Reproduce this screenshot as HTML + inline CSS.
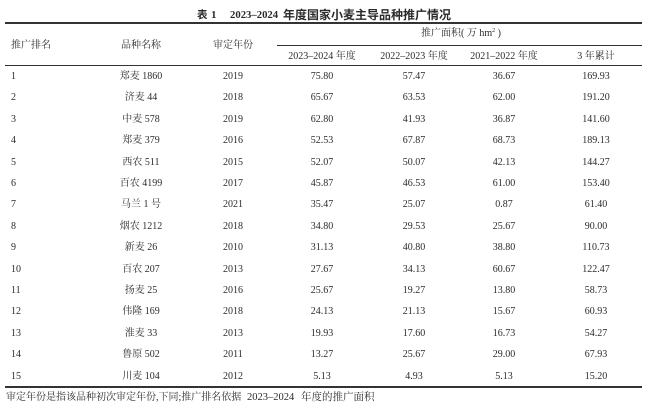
<!DOCTYPE html>
<html><head><meta charset="utf-8">
<style>
html,body{margin:0;padding:0;background:#fff;}
body{width:650px;height:407px;position:relative;overflow:hidden;color:#2b2b2b;
font-family:"Liberation Serif","Noto Serif CJK SC",serif;font-size:10px;}
.a{position:absolute;white-space:nowrap;height:14px;line-height:14px;}
.ln{position:absolute;background:#333;}
.r{position:absolute;left:0;width:650px;height:14px;line-height:14px;}
.r span{position:absolute;top:0;width:100px;text-align:center;white-space:nowrap;}
.r span.c1{left:11px;text-align:left;}
.c2{left:91px}.c3{left:183px}.c4{left:272px}.c5{left:364px}.c6{left:454px}.c7{left:546px}
.t{font-weight:bold;font-family:"Liberation Serif","Noto Sans CJK SC",sans-serif;}
.tc{font-weight:bold;font-family:"Noto Sans CJK SC",sans-serif;font-size:12px;}
sup{font-size:6px;line-height:0;vertical-align:4px;}
</style></head><body>

<div class="a tc" style="left:197px;top:8px;font-size:10.5px;">表</div>
<div class="a t" style="left:211px;top:8px;font-size:11px;">1</div>
<div class="a t" style="left:230px;top:8px;font-size:10.7px;">2023–2024</div>
<div class="a tc" style="left:283px;top:8px;">年度国家小麦主导品种推广情况</div>

<div class="ln" style="left:5px;top:22px;width:637px;height:2px;"></div>
<div class="ln" style="left:277px;top:45px;width:365px;height:1px;"></div>
<div class="ln" style="left:5px;top:65px;width:637px;height:1px;"></div>
<div class="ln" style="left:5px;top:386px;width:637px;height:1.6px;"></div>

<div class="r" style="top:39px;">
<span class="c1">推广排名</span><span class="c2">品种名称</span><span class="c3">审定年份</span>
</div>
<div class="a" style="left:401px;width:120px;text-align:center;top:27px;">推广面积( 万 hm<sup>2</sup> )</div>
<div class="r" style="top:50px;">
<span class="c4">2023–2024 年度</span><span class="c5">2022–2023 年度</span><span class="c6">2021–2022 年度</span><span class="c7">3 年累计</span>
</div>

<div class="r" style="top:70px;"><span class="c1">1</span><span class="c2">郑麦 1860</span><span class="c3">2019</span><span class="c4">75.80</span><span class="c5">57.47</span><span class="c6">36.67</span><span class="c7">169.93</span></div>
<div class="r" style="top:91.4px;"><span class="c1">2</span><span class="c2">济麦 44</span><span class="c3">2018</span><span class="c4">65.67</span><span class="c5">63.53</span><span class="c6">62.00</span><span class="c7">191.20</span></div>
<div class="r" style="top:112.8px;"><span class="c1">3</span><span class="c2">中麦 578</span><span class="c3">2019</span><span class="c4">62.80</span><span class="c5">41.93</span><span class="c6">36.87</span><span class="c7">141.60</span></div>
<div class="r" style="top:134.2px;"><span class="c1">4</span><span class="c2">郑麦 379</span><span class="c3">2016</span><span class="c4">52.53</span><span class="c5">67.87</span><span class="c6">68.73</span><span class="c7">189.13</span></div>
<div class="r" style="top:155.6px;"><span class="c1">5</span><span class="c2">西农 511</span><span class="c3">2015</span><span class="c4">52.07</span><span class="c5">50.07</span><span class="c6">42.13</span><span class="c7">144.27</span></div>
<div class="r" style="top:177px;"><span class="c1">6</span><span class="c2">百农 4199</span><span class="c3">2017</span><span class="c4">45.87</span><span class="c5">46.53</span><span class="c6">61.00</span><span class="c7">153.40</span></div>
<div class="r" style="top:198.4px;"><span class="c1">7</span><span class="c2">马兰 1 号</span><span class="c3">2021</span><span class="c4">35.47</span><span class="c5">25.07</span><span class="c6">0.87</span><span class="c7">61.40</span></div>
<div class="r" style="top:219.8px;"><span class="c1">8</span><span class="c2">烟农 1212</span><span class="c3">2018</span><span class="c4">34.80</span><span class="c5">29.53</span><span class="c6">25.67</span><span class="c7">90.00</span></div>
<div class="r" style="top:241.2px;"><span class="c1">9</span><span class="c2">新麦 26</span><span class="c3">2010</span><span class="c4">31.13</span><span class="c5">40.80</span><span class="c6">38.80</span><span class="c7">110.73</span></div>
<div class="r" style="top:262.6px;"><span class="c1">10</span><span class="c2">百农 207</span><span class="c3">2013</span><span class="c4">27.67</span><span class="c5">34.13</span><span class="c6">60.67</span><span class="c7">122.47</span></div>
<div class="r" style="top:284px;"><span class="c1">11</span><span class="c2">扬麦 25</span><span class="c3">2016</span><span class="c4">25.67</span><span class="c5">19.27</span><span class="c6">13.80</span><span class="c7">58.73</span></div>
<div class="r" style="top:305.4px;"><span class="c1">12</span><span class="c2">伟隆 169</span><span class="c3">2018</span><span class="c4">24.13</span><span class="c5">21.13</span><span class="c6">15.67</span><span class="c7">60.93</span></div>
<div class="r" style="top:326.8px;"><span class="c1">13</span><span class="c2">淮麦 33</span><span class="c3">2013</span><span class="c4">19.93</span><span class="c5">17.60</span><span class="c6">16.73</span><span class="c7">54.27</span></div>
<div class="r" style="top:348.2px;"><span class="c1">14</span><span class="c2">鲁原 502</span><span class="c3">2011</span><span class="c4">13.27</span><span class="c5">25.67</span><span class="c6">29.00</span><span class="c7">67.93</span></div>
<div class="r" style="top:369.6px;"><span class="c1">15</span><span class="c2">川麦 104</span><span class="c3">2012</span><span class="c4">5.13</span><span class="c5">4.93</span><span class="c6">5.13</span><span class="c7">15.20</span></div>

<div class="a" style="left:6px;top:391px;">审定年份是指该品种初次审定年份,下同;推广排名依据</div>
<div class="a" style="left:247px;top:391px;font-size:10.5px;">2023–2024</div>
<div class="a" style="left:301px;top:391px;font-size:10.5px;">年度的推广面积</div>

</body></html>
